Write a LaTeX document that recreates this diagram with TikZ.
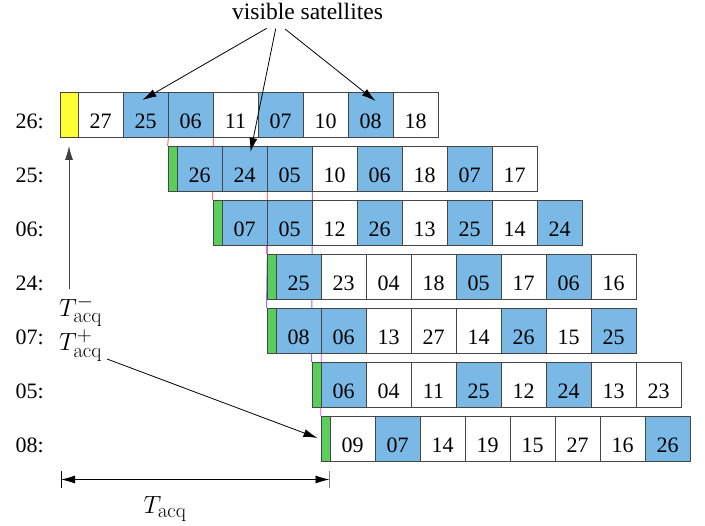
\documentclass[tikz,border=0pt]{standalone}
\usepackage[no-math]{fontspec}
\setmainfont{Liberation Serif}
\usetikzlibrary{arrows.meta}
\definecolor{satblue}{RGB}{122,185,229}
\definecolor{accgreen}{RGB}{90,205,90}
\definecolor{accyellow}{RGB}{255,255,51}
\definecolor{cellline}{RGB}{70,70,70}
\definecolor{linkred}{RGB}{255,120,120}
\definecolor{linkblue}{RGB}{120,120,255}
\definecolor{linkmag}{RGB}{255,120,255}
\pgfdeclarelayer{background}
\pgfsetlayers{background,main}
\newcommand\satrow[6]{%
  % #1 id, #2 label, #3 top y, #4 marker x, #5 marker colour, #6 entries
  \node[marker, fill=#5] (#1m) at (#4,#3) {};
  \node[rowlab] (#1l) at (44,#3+36.3) {#2:};
  \foreach \n/\b [count=\i] in {#6} {
    \ifnum\b=1
      \node[cell, fill=satblue] (#1c\i) at ({#4+9+45*(\i-1)},#3) {\n};
    \else
      \node[cell] (#1c\i) at ({#4+9+45*(\i-1)},#3) {\n};
    \fi
  }%
}
\begin{document}
\begin{tikzpicture}[x=1pt,y=-1pt,
  cell/.style={draw=cellline, fill=white, line width=1pt, minimum width=45pt,
    minimum height=45pt, inner sep=0pt, anchor=north west,
    text height=36pt, text depth=8.4pt, font=\fontsize{22}{26}\selectfont},
  marker/.style={draw=cellline, line width=1pt, minimum width=9pt,
    minimum height=45pt, inner sep=0pt, anchor=north west},
  rowlab/.style={anchor=base east, inner sep=0pt, font=\fontsize{22}{26}\selectfont},
  arr/.style={-{Latex[length=14pt,width=8pt]}, line width=0.8pt},
  link/.style={line width=1pt},
  mathlab/.style={inner sep=0pt, font=\fontsize{24.88}{30}\selectfont}
]
\useasboundingbox (0,0) rectangle (705,526);

% row 26 (yellow marker, wider)
\node[marker, fill=accyellow, minimum width=18pt] (r26m) at (59.5,92) {};
\node[rowlab] (r26l) at (44,128.3) {26:};
\foreach \n/\b [count=\i] in {27/0,25/1,06/1,11/0,07/1,10/0,08/1,18/0} {
  \ifnum\b=1
    \node[cell, fill=satblue] (r26c\i) at ({77.5+45*(\i-1)},92) {\n};
  \else
    \node[cell] (r26c\i) at ({77.5+45*(\i-1)},92) {\n};
  \fi
}
\satrow{r25}{25}{146}{167.5}{accgreen}{26/1,24/1,05/1,10/0,06/1,18/0,07/1,17/0}
\satrow{r06}{06}{200}{212.5}{accgreen}{07/1,05/1,12/0,26/1,13/0,25/1,14/0,24/1}
\satrow{r24}{24}{254}{266.5}{accgreen}{25/1,23/0,04/0,18/0,05/1,17/0,06/1,16/0}
\satrow{r07}{07}{308}{266.5}{accgreen}{08/1,06/1,13/0,27/0,14/0,26/1,15/0,25/1}
\satrow{r05}{05}{362}{311.5}{accgreen}{06/1,04/0,11/0,25/1,12/0,24/1,13/0,23/0}
\satrow{r08}{08}{416}{320.5}{accgreen}{09/0,07/1,14/0,19/0,15/0,27/0,16/0,26/1}

% alignment links (behind the cells)
\begin{pgfonlayer}{background}
  \draw[link, linkred]  (r26c2.south east) -- (r25m.north west);
  \draw[link, linkred]  (r26c3.south east) -- (r06m.north west);
  \draw[link, linkblue] (r25c3.south east) -- (r05m.north west);
  \draw[link, linkblue] (r06c1.south east) -- (r07m.north west);
  \draw[link, linkred]  (r25c2.south east) -- (r24m.north west);
  \draw[link, linkmag]  (r07c1.south east) -- (r08m.north west);
\end{pgfonlayer}

% visible satellites
\node[inner sep=0pt, anchor=base, font=\fontsize{23.5}{28}\selectfont] (vis) at (307.5,20) {visible satellites};
\coordinate (v1) at (266.7,28.3);
\coordinate (v2) at (275.7,28.7);
\coordinate (v3) at (285,29);
\draw[arr] (v1) -- ([shift={(-3,8)}]r26c2.north);
\draw[arr] (v2) -- ([shift={(6,6)}]r25c2.north);
\draw[arr] (v3) -- ([shift={(5,9)}]r26c7.north);

% T_acq labels
\node[mathlab, anchor=base west] (tminus) at (59,316.5) {$T^{-}_{\mathrm{acq}}$};
\node[mathlab, anchor=base west] (tplus) at (59,351) {$T^{+}_{\mathrm{acq}}$};
\coordinate (tmtop) at (69,289);
\draw[arr, draw=black!75] (tmtop) -- ([shift={(0,8)}]r26m.south);
\coordinate (tpend) at (107,359);
\draw[arr] (tpend) -- ([shift={(-3,-1)}]r08m.west);

% acquisition time
\coordinate (dl) at (61,479.5);
\coordinate (dr) at (329.5,479.5);
\draw[line width=1pt] (61,471) -- (61,488);
\draw[line width=1pt, black!50] (329.5,471) -- (329.5,488);
\draw[{Latex[length=14pt,width=8pt]}-{Latex[length=14pt,width=8pt]}, line width=0.8pt] (dl) -- (dr);
\node[mathlab, anchor=base] (tacq) at (165,514) {$T_{\mathrm{acq}}$};
\end{tikzpicture}
\end{document}
